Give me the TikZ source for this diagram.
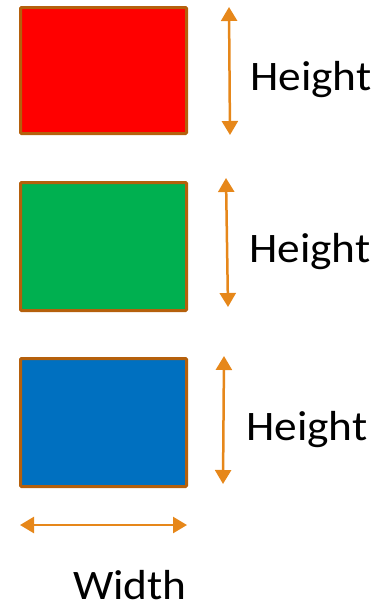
\documentclass[tikz,border=0pt]{standalone}
\usepackage{fontspec}
\setmainfont{Carlito}
\newfontfamily\lblfont[FakeStretch=1.08]{Carlito}
\usetikzlibrary{arrows.meta}
\definecolor{boxline}{HTML}{B5600C}
\definecolor{dimline}{HTML}{E6871A}
\definecolor{cred}{HTML}{FF0000}
\definecolor{cgreen}{HTML}{00B050}
\definecolor{cblue}{HTML}{0070C0}
\begin{document}
\begin{tikzpicture}[x=1pt,y=-1pt,
  box/.style={draw=boxline,line width=3pt,inner sep=0pt,outer sep=0pt,minimum width=166pt,minimum height=126pt,rounded corners=1pt},
  dimarrow/.style={draw=dimline,line width=2.5pt,{Triangle[width=16pt,length=14pt]}-{Triangle[width=16pt,length=14pt]}},
  lbl/.style={anchor=base west,inner sep=0pt,font=\lblfont\fontsize{42}{46}\selectfont}]
\useasboundingbox (0,0) rectangle (379,608);
\node[box,fill=cred] (r) at (103.5,70.5) {};
\node[box,fill=cgreen,minimum height=128pt] (g) at (103.5,246.5) {};
\node[box,fill=cblue,minimum height=128pt] (b) at (103.5,422.5) {};
\coordinate (h1a) at (229,7); \coordinate (h1b) at (230,135);
\coordinate (h2a) at (226,178); \coordinate (h2b) at (228,307);
\coordinate (h3a) at (224,356); \coordinate (h3b) at (223,484);
\coordinate (wa) at (20,525); \coordinate (wb) at (187,525);
\draw[dimarrow] (h1a) -- (h1b);
\draw[dimarrow] (h2a) -- (h2b);
\draw[dimarrow] (h3a) -- (h3b);
\draw[dimarrow] (wa) -- (wb);
\node[lbl] (t1) at (250,90) {Height};
\node[lbl] (t2) at (249,262.5) {Height};
\node[lbl] (t3) at (246,440.5) {Height};
\node[lbl] (t4) at (73,599) {Width};
\end{tikzpicture}
\end{document}
